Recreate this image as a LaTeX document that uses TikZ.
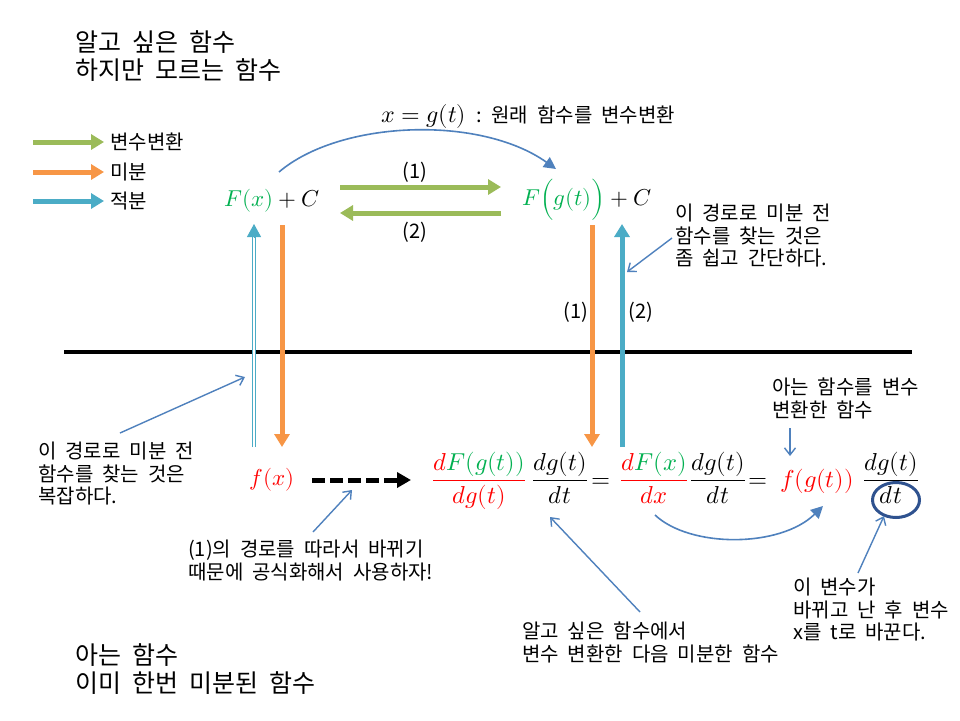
\documentclass[tikz,border=0pt]{standalone}
\usepackage{unicode-math}
\setmathfont{latinmodern-math.otf}
\setmainfont{Noto Sans CJK KR}[WordSpace=2]
\usetikzlibrary{arrows.meta}
\definecolor{cvar}{HTML}{9BBB59}
\definecolor{cdiff}{HTML}{F79646}
\definecolor{cint}{HTML}{4BACC6}
\definecolor{cptr}{HTML}{4F81BD}
\definecolor{mgreen}{HTML}{00B050}
\definecolor{mred}{HTML}{FF0000}
\definecolor{cring}{HTML}{2F528F}
\tikzset{
  titletext/.style={font=\fontsize{25}{28.5}\selectfont, align=left, inner sep=0pt, anchor=north west},
  anntext/.style={font=\fontsize{20}{22.5}\selectfont, align=left, inner sep=0pt, anchor=north west},
  legtext/.style={font=\fontsize{20}{22}\selectfont, inner sep=0pt, anchor=west},
  numtext/.style={font=\fontsize{20}{24}\selectfont, inner sep=0pt},
  mathtext/.style={font=\fontsize{23}{26}\selectfont, inner sep=0pt},
  eqtext/.style={font=\fontsize{24.5}{28}\selectfont, inner sep=0pt, anchor=base},
  fattip/.style={-{Triangle[length=13pt,width=15pt]}},
  vararrow/.style={cvar, line width=5pt, fattip},
  diffarrow/.style={cdiff, line width=5pt, fattip},
  intarrow/.style={cint, line width=5pt, fattip},
  ptrarrow/.style={cptr, line width=1.4pt, -{Straight Barb[length=7pt,width=11pt]}},
  curvearrow/.style={cptr, line width=1.6pt, -{Triangle[length=12pt,width=12pt]}},
}
\begin{document}
\begin{tikzpicture}[x=1pt,y=-1pt]
\useasboundingbox[fill=white] (0,0) rectangle (960,720);

% titles
\node[titletext] (ttop) at (75,30) {알고 싶은 함수\\하지만 모르는 함수};
\node[titletext] (tbot) at (75,643) {아는 함수\\이미 한번 미분된 함수};

% legend
\coordinate (lg1s) at (33,142); \coordinate (lg1e) at (104,142);
\coordinate (lg2s) at (33,172); \coordinate (lg2e) at (104,172);
\coordinate (lg3s) at (33,201); \coordinate (lg3e) at (104,201);
\draw[vararrow] (lg1s) -- (lg1e);
\draw[diffarrow] (lg2s) -- (lg2e);
\draw[intarrow] (lg3s) -- (lg3e);
\node[legtext] (lgt1) at (110,142) {변수변환};
\node[legtext] (lgt2) at (110,172) {미분};
\node[legtext] (lgt3) at (110,201) {적분};

% top functions
\node[mathtext] (Fx) at (272,201) {${\color{mgreen}F(x)}+C$};
\node[mathtext] (Fg) at (587,200) {${\color{mgreen}F\Bigl(g(t)\Bigr)}+C$};

% substitution label and curved arrow
\node[inner sep=0pt, anchor=west] (sublab) at (381,116) {{\fontsize{24}{26}\selectfont$x=g(t)$}\,{\fontsize{20}{22}\selectfont ~:~원래 함수를 변수변환}};
\coordinate (cvs) at (279,172);
\coordinate (cve) at (556,169);
\draw[curvearrow] (cvs) .. controls (340,120) and (480,115) .. (cve);

% green arrows between F(x)+C and F(g(t))+C
\coordinate (g1s) at (340,187); \coordinate (g1e) at (501,187);
\coordinate (g2s) at (501,213); \coordinate (g2e) at (340,213);
\draw[vararrow] (g1s) -- (g1e);
\draw[vararrow] (g2s) -- (g2e);
\node[numtext] (n1a) at (415,172) {(1)};
\node[numtext] (n2a) at (415,232) {(2)};

% separating line
\coordinate (sepl) at (64,352); \coordinate (sepr) at (912,352);
\draw[line width=4pt] (sepl) -- (sepr);

% left vertical arrows
\coordinate (lo1) at (282,225); \coordinate (lo2) at (282,447);
\draw[diffarrow] (lo1) -- (lo2);
\coordinate (lb1) at (254,447); \coordinate (lb2) at (254,236); \coordinate (lb3) at (254,224);
\draw[cint, line width=1.2pt, double=white, double distance=2.2pt] (lb1) -- (lb2);
\draw[cint, line width=1pt, -{Triangle[length=13pt,width=14pt]}] (254,238) -- (lb3);

% right vertical arrows
\coordinate (ro1) at (592,225); \coordinate (ro2) at (592,447);
\draw[diffarrow] (ro1) -- (ro2);
\coordinate (rb1) at (622,447); \coordinate (rb2) at (622,224);
\draw[intarrow] (rb1) -- (rb2);
\node[numtext] (n1b) at (576,312) {(1)};
\node[numtext] (n2b) at (641,312) {(2)};

% annotation: easy path
\node[anntext] (easy) at (675,204) {이 경로로 미분 전\\함수를 찾는 것은\\좀 쉽고 간단하다.};
\coordinate (ea1) at (672,238); \coordinate (ea2) at (627,272);
\draw[ptrarrow] (ea1) -- (ea2);

% annotation: hard path
\node[anntext] (hard) at (38,442) {이 경로로 미분 전\\함수를 찾는 것은\\복잡하다.};
\coordinate (ha1) at (120,433); \coordinate (ha2) at (245,377);
\draw[ptrarrow] (ha1) -- (ha2);

% f(x) and dashed arrow
\node[mathtext, text=mred] (fx) at (272,480) {$f(x)$};
\coordinate (da1) at (312,480); \coordinate (da2) at (411,480);
\draw[line width=5pt, dash pattern=on 13pt off 5pt, -{Triangle[length=14pt,width=15pt]}] (da1) -- (da2);
\node[anntext] (formula) at (188,540) {(1)의 경로를 따라서 바뀌기\\때문에 공식화해서 사용하자!};
\coordinate (fa1) at (313,532); \coordinate (fa2) at (352,490);
\draw[ptrarrow] (fa1) -- (fa2);

% equation
\node[eqtext] (e1) at (479,487) {${\color{mred}\dfrac{d{\color{mgreen}F(g(t))}}{dg(t)}}$};
\node[eqtext] (e2) at (560,487) {$\dfrac{dg(t)}{dt}$};
\node[eqtext] (eq1) at (601,487) {$=$};
\node[eqtext] (e3) at (654,487) {${\color{mred}\dfrac{d{\color{mgreen}F(x)}}{dx}}$};
\node[eqtext] (e4) at (718,487) {$\dfrac{dg(t)}{dt}$};
\node[eqtext] (eq2) at (758,487) {$=$};
\node[eqtext, text=mred] (e5) at (817,487) {$f(g(t))$};
\node[eqtext] (e6) at (891,487) {$\dfrac{dg(t)}{dt}$};
\draw[cring, line width=3pt] (896,500) ellipse [x radius=23.5, y radius=17.5];

% annotation: known function substituted
\node[anntext] (known) at (772,378) {아는 함수를 변수\\변환한 함수};
\coordinate (ka1) at (790,428); \coordinate (ka2) at (790,456);
\draw[ptrarrow] (ka1) -- (ka2);

% curved arrow dx -> f(g(t))
\coordinate (cb1) at (655,515); \coordinate (cb2) at (823,506);
\draw[curvearrow] (cb1) .. controls (690,548) and (780,548) .. (cb2);

% annotation: substitute then differentiate
\node[anntext] (subdiff) at (522,622) {알고 싶은 함수에서\\변수 변환한 다음 미분한 함수};
\coordinate (sa1) at (640,612); \coordinate (sa2) at (550,517);
\draw[ptrarrow] (sa1) -- (sa2);

% annotation: variable change
\node[anntext] (varch) at (793,578) {이 변수가\\바뀌고 난 후 변수\\x를 t로 바꾼다.};
\coordinate (va1) at (858,573); \coordinate (va2) at (884,516);
\draw[ptrarrow] (va1) -- (va2);
\end{tikzpicture}
\end{document}
